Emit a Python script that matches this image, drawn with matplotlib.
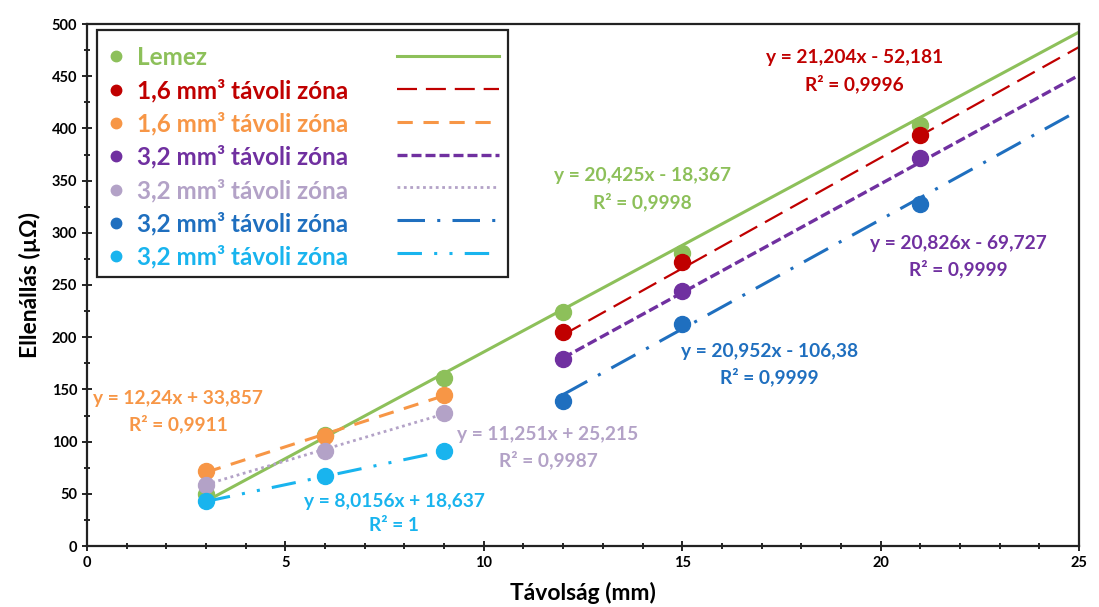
import matplotlib
matplotlib.use("Agg")
import matplotlib.pyplot as plt
from matplotlib.lines import Line2D
from matplotlib.patches import Rectangle
from matplotlib.ticker import MultipleLocator
import numpy as np

plt.rcParams['font.family'] = ['Lato', 'DejaVu Sans']

# ---- data ----
labels = ["Lemez", "1,6 mm³ távoli zóna", "1,6 mm³ távoli zóna", "3,2 mm³ távoli zóna",
          "3,2 mm³ távoli zóna", "3,2 mm³ távoli zóna", "3,2 mm³ távoli zóna"]
colors = ["#8DC05A", "#C00000", "#F79646", "#7030A0", "#B3A2C7", "#1F6FBF", "#19B4EE"]

x_lemez = [3, 6, 9, 12, 15, 21]
y_lemez = [50, 106, 161, 224, 281, 403]
x_far = [12, 15, 21]
y_red = [205, 272, 394]
y_purple = [179, 244, 372]
y_blue = [139, 213, 328]
x_near = [3, 6, 9]
y_orange = [72, 105, 145]
y_lav = [58, 91, 127]
y_cyan = [43, 67, 91]

# trendline coefficients (slope, intercept) as shown in the chart
slopes = [20.425, 21.204, 12.24, 20.826, 11.251, 20.952, 8.0156]
intercepts = [-18.367, -52.181, 33.857, -69.727, 25.215, -106.38, 18.637]
trend_x0 = [3, 12, 3, 12, 3, 12, 3]
trend_x1 = [25, 25, 9, 25, 9, 25, 9]
eq_texts = ["y = 20,425x - 18,367\nR² = 0,9998",
            "y = 21,204x - 52,181\nR² = 0,9996",
            "y = 12,24x + 33,857\nR² = 0,9911",
            "y = 20,826x - 69,727\nR² = 0,9999",
            "y = 11,251x + 25,215\nR² = 0,9987",
            "y = 20,952x - 106,38\nR² = 0,9999",
            "y = 8,0156x + 18,637\nR² = 1"]
eq_pos = [(14.0, 342), (19.35, 455), (2.3, 129), (21.95, 277), (11.62, 94), (17.2, 174), (7.74, 31)]

xs = [x_lemez, x_far, x_near, x_far, x_near, x_far, x_near]
ys = [y_lemez, y_red, y_orange, y_purple, y_lav, y_blue, y_cyan]

linestyles = ['-', (0, (9, 4)), (0, (5, 3.5)), (0, (3, 1.2)), (0, (1, 1.3)),
              (0, (9, 4, 1, 4)), (0, (8, 4, 1, 4, 1, 4))]
lws = [2.2, 1.6, 2.2, 2.4, 2.0, 2.2, 2.2]

fig = plt.figure(figsize=(10.99, 6.07), dpi=100)
ax = fig.add_axes([87/1099, 61/607, (1079-87)/1099, (546-24)/607])

for i in range(7):
    tx = np.array([trend_x0[i], trend_x1[i]], dtype=float)
    ty = slopes[i]*tx + intercepts[i]
    ax.plot(tx, ty, color=colors[i], linestyle=linestyles[i], lw=lws[i], zorder=2)
for i in range(7):
    ax.plot(xs[i], ys[i], 'o', color=colors[i], markersize=11.5, zorder=3)

for i in range(7):
    ax.text(eq_pos[i][0], eq_pos[i][1], eq_texts[i], color=colors[i], ha='center', va='center',
            fontsize=13.8, fontweight='bold', linespacing=1.5, zorder=4)

ax.set_xlim(0, 25)
ax.set_ylim(0, 500)
ax.xaxis.set_major_locator(MultipleLocator(5))
ax.xaxis.set_minor_locator(MultipleLocator(1))
ax.yaxis.set_major_locator(MultipleLocator(50))
ax.yaxis.set_minor_locator(MultipleLocator(25))
ax.tick_params(which='both', direction='inout', width=1.2, labelsize=10.5)
ax.tick_params(which='major', length=7)
ax.tick_params(which='minor', length=5)
for lab in ax.get_xticklabels() + ax.get_yticklabels():
    lab.set_fontweight('bold')
for s in ax.spines.values():
    s.set_linewidth(1.6)
    s.set_color('#222222')

ax.set_xlabel("Távolság (mm)", fontsize=16.5, fontweight='bold', labelpad=9)
ax.set_ylabel("Ellenállás (µΩ)", fontsize=16.5, fontweight='bold', labelpad=8)

# legend: marker column with labels, line column without labels
ax.add_patch(Rectangle((10/992, 1-(277-24)/522), (508-97)/992, (277-30)/522,
                       transform=ax.transAxes, facecolor='white', edgecolor='#222222',
                       lw=1.6, zorder=5))
mh = [Line2D([], [], marker='o', ls='none', color=c, markersize=7.5) for c in colors]
leg1 = ax.legend(mh, labels, loc='upper left', bbox_to_anchor=(0.0, 1.0), frameon=False,
                 handlelength=0.6, handletextpad=0.55, labelspacing=0.4,
                 prop={'size': 17.5, 'weight': 'bold'})
for t, c in zip(leg1.get_texts(), colors):
    t.set_color(c)
leg1.set_zorder(6)
ax.add_artist(leg1)
lh = [Line2D([], [], color=c, ls=l, lw=w) for c, l, w in zip(colors, linestyles, lws)]
leg2 = ax.legend(lh, ['']*7, loc='upper left', bbox_to_anchor=(0.29, 1.0), frameon=False,
                 handlelength=4.2, handletextpad=0, labelspacing=0.4,
                 prop={'size': 17.5, 'weight': 'bold'})
leg2.set_zorder(6)

fig.savefig("out.png", dpi=100)
